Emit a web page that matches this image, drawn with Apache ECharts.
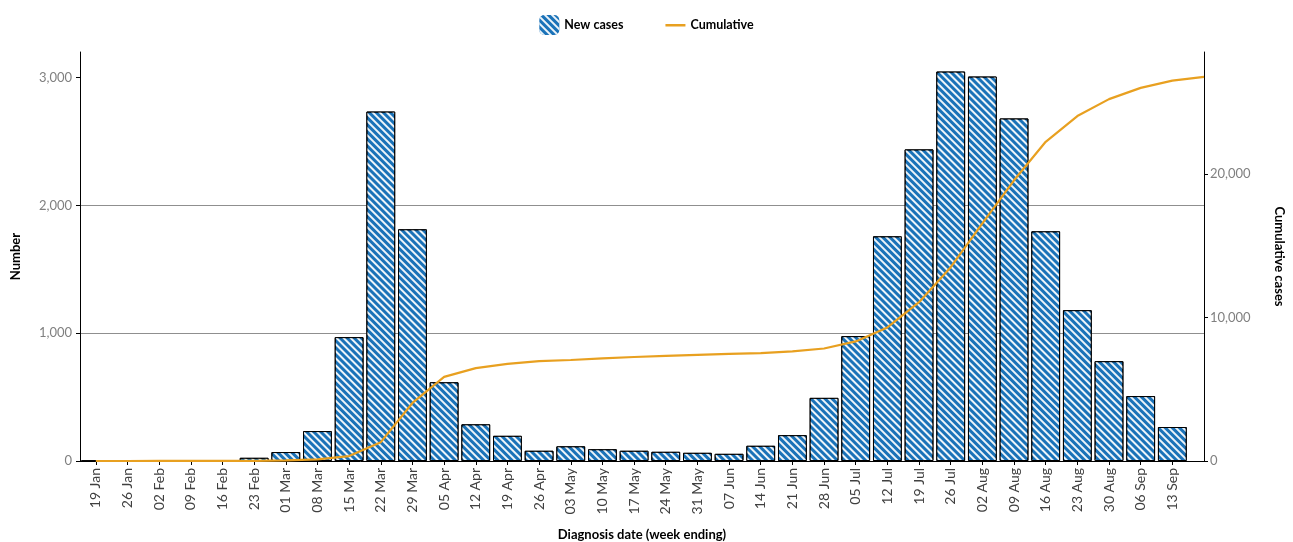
<!DOCTYPE html>
<html>
<head>
<meta charset="utf-8">
<script src="https://cdn.jsdelivr.net/npm/echarts@6/dist/echarts.min.js"></script>
<style>
html,body{margin:0;padding:0;background:#fff;}
#chart{width:1293px;height:542px;}
</style>
</head>
<body>
<div id="chart"></div>
<script>
// Week-ending categories
var weeks = ['19 Jan','26 Jan','02 Feb','09 Feb','16 Feb','23 Feb','01 Mar','08 Mar','15 Mar','22 Mar','29 Mar','05 Apr','12 Apr','19 Apr','26 Apr','03 May','10 May','17 May','24 May','31 May','07 Jun','14 Jun','21 Jun','28 Jun','05 Jul','12 Jul','19 Jul','26 Jul','02 Aug','09 Aug','16 Aug','23 Aug','30 Aug','06 Sep','13 Sep'];
// New cases per week
var newCases = [1,2,3,3,5,25,70,234,969,2734,1813,616,287,197,80,115,92,80,72,64,56,119,202,494,977,1758,2438,3047,3008,2680,1797,1180,781,508,266];
// Cumulative cases (one more point than weeks: the line runs to the right edge)
var cumulative = [0,1,3,6,9,14,39,109,343,1312,4046,5859,6475,6762,6959,7039,7154,7246,7326,7398,7462,7518,7637,7839,8333,9310,11068,13506,16553,19561,22241,24038,25218,25999,26507,26773];
// Tick values
var leftTicks = [0,1000,2000,3000];
var rightTicks = [0,10000,20000];

var fontFam = 'Lato, "Open Sans", sans-serif';
// week positions are 1-based on the x axis
var pos = weeks.map(function(_, i){ return i + 1; });
var barData = newCases.map(function(v, i){ return [i + 1, v]; });
var lineData = cumulative.map(function(v, i){ return [i + 1, v]; });
function fmt(v){ return Number(v).toLocaleString('en-US'); }

var hatch = {
  symbol: 'rect',
  symbolSize: 1,
  color: 'rgba(255,255,255,0.92)',
  dashArrayX: [1, 0],
  dashArrayY: [1.1, 3],
  rotation: Math.PI / 4
};

var chart = echarts.init(document.getElementById('chart'));
chart.setOption({
  animation: false,
  textStyle: { fontFamily: fontFam },
  legend: {
    top: 10,
    left: 'center',
    itemWidth: 20,
    itemHeight: 20,
    itemGap: 42,
    textStyle: { fontFamily: fontFam, fontWeight: 'bold', fontSize: 12.5, color: '#000' },
    data: [
      { name: 'New cases', itemStyle: { borderWidth: 0, decal: hatch, color: '#1a72b8' } },
      { name: 'Cumulative', icon: 'path://M0,0 L0,0.01 Z M0,9 L20,9 L20,11.5 L0,11.5 Z M20,19.99 L20,20 Z' }
    ]
  },
  grid: { left: 80, right: 89, top: 52, bottom: 81, containLabel: false, outerBoundsMode: 'none' },
  xAxis: {
    type: 'value',
    min: 0.5,
    max: 36,
    name: 'Diagnosis date (week ending)',
    nameLocation: 'middle',
    nameGap: 67,
    nameTextStyle: { fontFamily: fontFam, fontWeight: 'bold', fontSize: 13, color: '#000' },
    axisLine: { show: true, onZero: false, lineStyle: { color: '#000', width: 1 } },
    axisTick: { show: true, length: 4, customValues: pos, lineStyle: { color: '#000' } },
    axisLabel: {
      customValues: pos,
      rotate: 90,
      fontSize: 14,
      color: '#404040',
      margin: 7,
      formatter: function(v){ return weeks[Math.round(v) - 1] || ''; }
    },
    splitLine: { show: false }
  },
  yAxis: [
    {
      type: 'value',
      min: 0,
      max: 3200,
      interval: 1000,
      name: 'Number',
      nameLocation: 'middle',
      nameGap: 58,
      nameTextStyle: { fontFamily: fontFam, fontWeight: 'bold', fontSize: 13, color: '#000' },
      axisLine: { show: true, onZero: false, lineStyle: { color: '#000', width: 1 } },
      axisTick: { show: true, length: 4, customValues: leftTicks, lineStyle: { color: '#000' } },
      axisLabel: { customValues: leftTicks, color: '#808080', fontSize: 13, margin: 8, formatter: fmt },
      splitLine: { show: true, showMaxLine: false, showMinLine: false, lineStyle: { color: '#8f8f8f', width: 1 } }
    },
    {
      type: 'value',
      min: 0,
      max: 28500,
      interval: 10000,
      position: 'right',
      name: 'Cumulative cases',
      nameLocation: 'middle',
      nameGap: 69,
      nameRotate: -90,
      nameTextStyle: { fontFamily: fontFam, fontWeight: 'bold', fontSize: 13, color: '#000' },
      axisLine: { show: true, onZero: false, lineStyle: { color: '#000', width: 1 } },
      axisTick: { show: true, length: 4, customValues: rightTicks, lineStyle: { color: '#000' } },
      axisLabel: { customValues: rightTicks, color: '#808080', fontSize: 13, margin: 6, formatter: fmt },
      splitLine: { show: false }
    }
  ],
  series: [
    {
      name: 'New cases',
      type: 'bar',
      xAxisIndex: 0,
      yAxisIndex: 0,
      data: barData,
      barWidth: '91%',
      itemStyle: {
        color: '#1a72b8',
        borderColor: '#000',
        borderWidth: 1,
        decal: hatch
      },
      z: 2
    },
    {
      name: 'Cumulative',
      type: 'line',
      xAxisIndex: 0,
      yAxisIndex: 1,
      data: lineData,
      symbol: 'none',
      lineStyle: { color: '#e8a020', width: 2.2 },
      itemStyle: { color: '#e8a020' },
      z: 3
    }
  ]
});
</script>
</body>
</html>
